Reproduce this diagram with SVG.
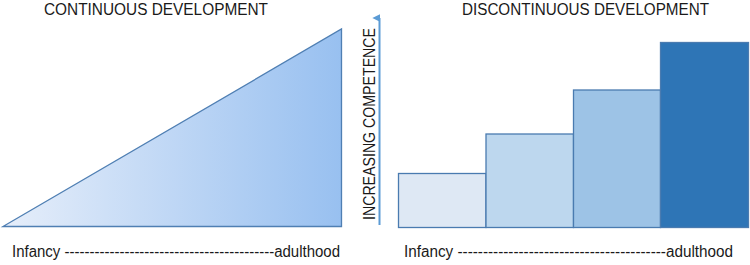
<svg xmlns="http://www.w3.org/2000/svg" width="750" height="265" viewBox="0 0 750 265">
<style>
.t{font-family:"Liberation Sans","Open Sans",Arial,sans-serif;fill:#1a1a1a}
.title{font-size:16px}
.axis{font-size:16px}
.bar{stroke:#4a7bb0;stroke-width:1.3}
</style>
<defs>
<linearGradient id="g" x1="0" y1="0" x2="1" y2="0">
<stop offset="0" stop-color="#e6eefa"/>
<stop offset="1" stop-color="#98c0f0"/>
</linearGradient>
<marker id="ah" viewBox="0 0 10 10" refX="5" refY="9" markerWidth="8" markerHeight="8" markerUnits="userSpaceOnUse" orient="auto-start-reverse">
<path d="M0,10 L5,0 L10,10 Z" fill="#5b9bd5"/>
</marker>
</defs>
<g id="continuous">
<text class="t title" x="44" y="14.5" textLength="224" lengthAdjust="spacingAndGlyphs">CONTINUOUS DEVELOPMENT</text>
<polygon points="3,226.5 341.5,29 341.5,226.5" fill="url(#g)" stroke="#4f7fb3" stroke-width="1.3"/>
<text class="t axis" x="12" y="256.5" textLength="328" lengthAdjust="spacingAndGlyphs">Infancy ------------------------------------------adulthood</text>
</g>
<g id="competence-axis">
<line x1="379.5" y1="225" x2="379.5" y2="18" stroke="#5b9bd5" stroke-width="2" marker-end="url(#ah)"/>
<text class="t title" transform="translate(374.5,124) rotate(-90)" text-anchor="middle" textLength="192" lengthAdjust="spacingAndGlyphs">INCREASING COMPETENCE</text>
</g>
<g id="discontinuous">
<text class="t title" x="462" y="14.5" textLength="247" lengthAdjust="spacingAndGlyphs">DISCONTINUOUS DEVELOPMENT</text>
<rect id="step1" class="bar" x="398.5" y="173.5" width="87.5" height="54" fill="#dee8f4"/>
<rect id="step2" class="bar" x="486" y="134" width="87.5" height="93.5" fill="#bdd7ee"/>
<rect id="step3" class="bar" x="573.5" y="90" width="87" height="137.5" fill="#9dc3e6"/>
<rect id="step4" class="bar" x="660.5" y="42.5" width="88" height="185" fill="#2e75b6" stroke="#3a72ab"/>
<text class="t axis" x="404" y="256.5" textLength="329" lengthAdjust="spacingAndGlyphs">Infancy -----------------------------------------adulthood</text>
</g>
</svg>
